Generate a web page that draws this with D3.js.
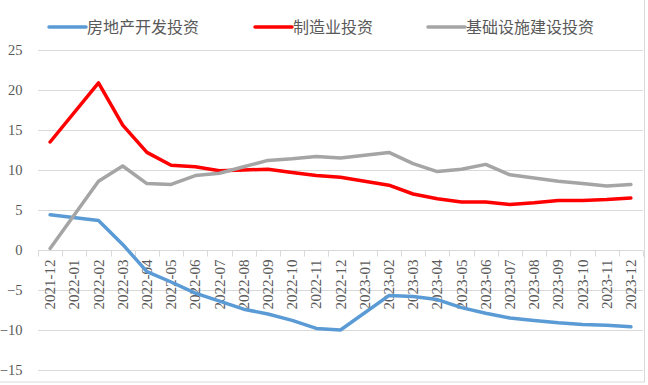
<!DOCTYPE html>
<html>
<head>
<meta charset="utf-8">
<script src="https://cdn.jsdelivr.net/npm/d3@7"></script>
<style>
  body { margin: 0; background: #fff; }
  svg { display: block; }
</style>
</head>
<body>
<svg width="648" height="385"></svg>
<script>
// months on the x axis
var months = ["2021-12", "2022-01", "2022-02", "2022-03", "2022-04", "2022-05", "2022-06",
              "2022-07", "2022-08", "2022-09", "2022-10", "2022-11", "2022-12", "2023-01",
              "2023-02", "2023-03", "2023-04", "2023-05", "2023-06", "2023-07", "2023-08",
              "2023-09", "2023-10", "2023-11", "2023-12"];

// null = no release that month (Jan), the line just skips over it
var realEstate = [4.4, null, 3.7, 0.7, -2.7, -4.0, -5.4, -6.4, -7.4, -8.0, -8.8, -9.8, -10.0,
                  null, -5.7, -5.8, -6.2, -7.2, -7.9, -8.5, -8.8, -9.1, -9.3, -9.4, -9.6];
var manufacturing = [13.5, null, 20.9, 15.6, 12.2, 10.6, 10.4, 9.9, 10.0, 10.1, 9.7, 9.3, 9.1,
                     null, 8.1, 7.0, 6.4, 6.0, 6.0, 5.7, 5.9, 6.2, 6.2, 6.3, 6.5];
var infra = [0.2, null, 8.6, 10.5, 8.3, 8.2, 9.3, 9.6, 10.4, 11.2, 11.4, 11.7, 11.5,
             null, 12.2, 10.8, 9.8, 10.1, 10.7, 9.4, 9.0, 8.6, 8.3, 8.0, 8.2];

var seriesNames = ["房地产开发投资", "制造业投资", "基础设施建设投资"];
var seriesColors = ["#5B9BD5", "#FF0000", "#A5A5A5"];
var yTicks = [-15, -10, -5, 0, 5, 10, 15, 20, 25];

var svg = d3.select("svg");

// outer frame (only right / bottom visible in the original)
svg.append("rect")
    .attr("x", -2).attr("y", -2)
    .attr("width", 646.5).attr("height", 384)
    .attr("fill", "none")
    .attr("stroke", "#D9D9D9")
    .attr("stroke-width", 1);

var x = d3.scaleBand()
    .domain(months)
    .range([38, 643]);

var y = d3.scaleLinear()
    .domain([-15, 25])
    .range([370, 50]);

// gridlines
svg.append("g")
    .selectAll("line")
    .data(yTicks)
    .enter().append("line")
    .attr("x1", 38).attr("x2", 643)
    .attr("y1", function(d) { return Math.round(y(d)) + 0.5; })
    .attr("y2", function(d) { return Math.round(y(d)) + 0.5; })
    .attr("stroke", "#D9D9D9")
    .attr("stroke-width", 1);

// y labels
var yAxis = d3.axisLeft(y).tickValues(yTicks).tickSize(0).tickPadding(0);
var gy = svg.append("g")
    .attr("transform", "translate(22.5,0)")
    .call(yAxis);
gy.select(".domain").remove();
gy.selectAll("text")
    .attr("fill", "#595959")
    .style("font-family", "'Liberation Serif', 'Times New Roman', serif")
    .style("font-size", "14.5px");

// zero axis with tick marks between categories
var y0 = Math.round(y(0)) + 0.5;
var bounds = months.map(function(m) { return x(m); }).concat([x.range()[1]]);
svg.append("g")
    .selectAll("line")
    .data(bounds)
    .enter().append("line")
    .attr("x1", function(d) { return Math.round(d) + 0.5; })
    .attr("x2", function(d) { return Math.round(d) + 0.5; })
    .attr("y1", y0).attr("y2", y0 + 6)
    .attr("stroke", "#D9D9D9");

// x labels, rotated
svg.append("g")
    .selectAll("text")
    .data(months)
    .enter().append("text")
    .attr("transform", function(d) {
        return "translate(" + (x(d) + x.bandwidth() / 2 + 5) + "," + (y0 + 9) + ") rotate(-90)";
    })
    .attr("text-anchor", "end")
    .attr("fill", "#595959")
    .style("font-family", "'Liberation Serif', 'Times New Roman', serif")
    .style("font-size", "15px")
    .text(function(d) { return d; });

// lines
var allSeries = [realEstate, manufacturing, infra];
var line = d3.line()
    .x(function(d) { return x(d.m) + x.bandwidth() / 2; })
    .y(function(d) { return y(d.v); });

allSeries.forEach(function(vals, i) {
    var pts = months.map(function(m, j) { return {m: m, v: vals[j]}; })
        .filter(function(d) { return d.v !== null; });
    svg.append("path")
        .datum(pts)
        .attr("fill", "none")
        .attr("stroke", seriesColors[i])
        .attr("stroke-width", 3.5)
        .attr("stroke-linejoin", "round")
        .attr("stroke-linecap", "round")
        .attr("d", line);
});

// legend
var legendX = [49, 255, 428];
var leg = svg.append("g");
seriesNames.forEach(function(name, i) {
    leg.append("line")
        .attr("x1", legendX[i]).attr("x2", legendX[i] + 37)
        .attr("y1", 27).attr("y2", 27)
        .attr("stroke", seriesColors[i])
        .attr("stroke-width", 3.5)
        .attr("stroke-linecap", "round");
    leg.append("text")
        .attr("x", legendX[i] + 38)
        .attr("y", 33)
        .attr("fill", "#595959")
        .style("font-family", "'Noto Sans CJK SC', sans-serif")
        .style("font-size", "16px")
        .text(name);
});
</script>
</body>
</html>
